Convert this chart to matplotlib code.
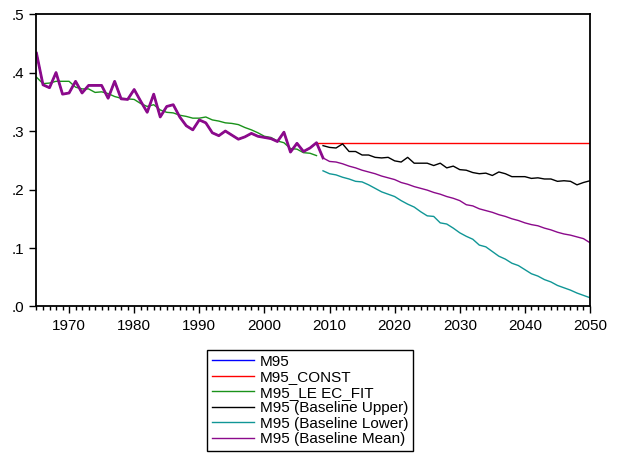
import matplotlib
matplotlib.use("Agg")
import matplotlib.pyplot as plt
from matplotlib.ticker import MultipleLocator, FuncFormatter
import numpy as np

# -- data --
years_hist = list(range(1965, 2009))
years_fc = list(range(2009, 2051))
years_const = [2008, 2050]

m95 = [0.433, 0.379, 0.374, 0.400, 0.363, 0.365, 0.385, 0.365, 0.378, 0.378,
       0.378, 0.356, 0.385, 0.355, 0.354, 0.371, 0.351, 0.332, 0.363, 0.324,
       0.342, 0.345, 0.324, 0.309, 0.302, 0.319, 0.314, 0.297, 0.292, 0.300,
       0.293, 0.286, 0.290, 0.296, 0.291, 0.289, 0.287, 0.282, 0.298, 0.264,
       0.279, 0.265, 0.271, 0.280]

leec_fit = [0.392, 0.381, 0.382, 0.385, 0.385, 0.385, 0.375, 0.372, 0.372, 0.366,
            0.367, 0.364, 0.359, 0.356, 0.355, 0.354, 0.347, 0.342, 0.345, 0.336,
            0.332, 0.331, 0.327, 0.325, 0.322, 0.322, 0.324, 0.319, 0.317, 0.314,
            0.313, 0.311, 0.306, 0.302, 0.297, 0.291, 0.289, 0.283, 0.280, 0.270,
            0.269, 0.263, 0.262, 0.258]

m95_const = [0.280, 0.280]

upper = [0.275, 0.272, 0.271, 0.278, 0.265, 0.265, 0.259, 0.259, 0.255, 0.254,
         0.255, 0.249, 0.247, 0.255, 0.245, 0.245, 0.245, 0.241, 0.245, 0.237,
         0.240, 0.234, 0.233, 0.229, 0.227, 0.228, 0.224, 0.230, 0.227, 0.222,
         0.222, 0.222, 0.219, 0.220, 0.218, 0.218, 0.214, 0.215, 0.214, 0.208,
         0.212, 0.215]

lower = [0.232, 0.227, 0.225, 0.221, 0.218, 0.214, 0.213, 0.208, 0.202, 0.196,
         0.192, 0.188, 0.181, 0.175, 0.170, 0.162, 0.155, 0.154, 0.143, 0.141,
         0.134, 0.126, 0.120, 0.115, 0.105, 0.102, 0.094, 0.086, 0.081, 0.074,
         0.070, 0.063, 0.056, 0.052, 0.046, 0.042, 0.036, 0.032, 0.028, 0.023,
         0.019, 0.015]

mean_fc = [0.254, 0.248, 0.247, 0.244, 0.240, 0.237, 0.233, 0.230, 0.227, 0.223,
           0.220, 0.217, 0.212, 0.209, 0.205, 0.202, 0.199, 0.195, 0.192, 0.188,
           0.185, 0.181, 0.174, 0.172, 0.167, 0.164, 0.161, 0.157, 0.154, 0.150,
           0.147, 0.143, 0.140, 0.138, 0.134, 0.131, 0.127, 0.124, 0.122, 0.119,
           0.116, 0.109]

plt.rcParams["font.family"] = ["Liberation Sans", "DejaVu Sans"]

fig = plt.figure(figsize=(6.26, 4.53), dpi=100)
ax = fig.add_axes([0.0583, 0.3234, 0.8842, 0.6456])

c_purple = "#8b0a8b"
c_teal = "#109696"
c_green = "#1a921a"

ax.plot(years_hist, m95, color="blue", lw=1, label="M95")
ax.plot(years_const, m95_const, color="red", lw=1, label="M95_CONST")
ax.plot(years_hist, leec_fit, color=c_green, lw=1, label="M95_LE EC_FIT")
ax.plot(years_fc, upper, color="black", lw=1, label="M95 (Baseline Upper)")
ax.plot(years_fc, lower, color=c_teal, lw=1, label="M95 (Baseline Lower)")
# mean series = history + forecast, history drawn heavier
mean_all = m95 + mean_fc
ax.plot(years_hist + years_fc, mean_all, color=c_purple, lw=1,
        label="M95 (Baseline Mean)")
ax.plot(years_hist + [2009], m95 + mean_fc[:1], color=c_purple, lw=2)

ax.set_xlim(1965, 2050)
ax.set_ylim(0, 0.5)
ax.xaxis.set_major_locator(MultipleLocator(10))
ax.xaxis.set_minor_locator(MultipleLocator(1))
ax.yaxis.set_major_locator(MultipleLocator(0.1))
ax.yaxis.set_major_formatter(FuncFormatter(lambda v, p: f"{v:.1f}".lstrip("0")))
ax.tick_params(axis="both", which="major", direction="out", length=5, width=1,
               labelsize=11, colors="black")
ax.tick_params(axis="x", which="minor", direction="out", length=3, width=1)
ax.tick_params(axis="x", which="major", pad=4)
for s in ax.spines.values():
    s.set_linewidth(1.3)

leg = fig.legend(loc="upper left", bbox_to_anchor=(207 / 626, 1 - 350 / 453),
                 fontsize=11, frameon=True, fancybox=False, edgecolor="black",
                 framealpha=1, handlelength=2.75, handletextpad=0.4,
                 labelspacing=0.1, borderpad=0.3, borderaxespad=0)
leg.get_frame().set_linewidth(1)

fig.savefig("out.png", dpi=100)
